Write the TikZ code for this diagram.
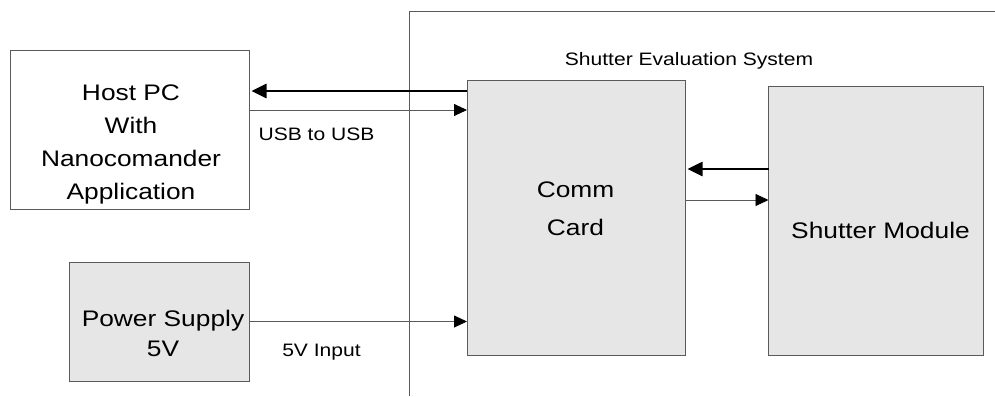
\documentclass[tikz,border=0pt]{standalone}
\usepackage{fontspec}
\setmainfont{Liberation Sans}
\newfontfamily\widefont{Liberation Sans}[FakeStretch=1.17]
\usetikzlibrary{arrows.meta}
\definecolor{boxfill}{HTML}{E6E6E6}
\definecolor{edge}{HTML}{5A5A5A}
\begin{document}
\begin{tikzpicture}[x=1pt,y=-1pt,
  blk/.style={draw=edge,line width=0.9pt,anchor=north west,inner sep=0pt,outer sep=0pt},
  big/.style={font=\widefont\fontsize{22.5}{33}\selectfont,align=center,inner sep=0pt},
  lbl/.style={font=\widefont\fontsize{18}{22}\selectfont,inner sep=0pt},
  thinarr/.style={draw=edge,line width=0.9pt,-{Triangle[length=13pt,width=12pt,color=black]}},
  thickarr/.style={draw=black,line width=2.6pt,shorten >=2.5pt,-{Triangle[length=15pt,width=14pt]}}]
\useasboundingbox (0,0) rectangle (995,396);
% frame
\coordinate (fbl) at (409.5,396);
\coordinate (ftl) at (409.5,11);
\coordinate (ftr) at (995,11);
\draw[draw=edge,line width=0.9pt] (fbl) -- (ftl) -- (ftr);
% blocks
\node[blk,fill=white,minimum width=239pt,minimum height=159pt] (host) at (10,50) {};
\node[blk,fill=boxfill,minimum width=180pt,minimum height=119pt] (psu) at (69,262) {};
\node[blk,fill=boxfill,minimum width=218pt,minimum height=275pt] (comm) at (467,80) {};
\node[blk,fill=boxfill,minimum width=215pt,minimum height=269pt] (shutter) at (768.5,86) {};
% texts
\node[big] (hosttext) at (131,144) {Host PC\\With\\Nanocomander\\Application};
\node[big,font=\widefont\fontsize{22.5}{30}\selectfont] (psutext) at (163,333) {Power Supply\\5V};
\node[big,font=\widefont\fontsize{22.5}{38}\selectfont] (commtext) at (575.5,209) {Comm\\Card};
\node[big] (shuttertext) at (880.5,230) {Shutter Module};
\node[lbl] (systitle) at (689,60.5) {Shutter Evaluation System};
\node[lbl] (usblabel) at (316.5,134) {USB to USB};
\node[lbl] (pwrlabel) at (321.5,352) {5V Input};
% connectors
\draw[thickarr] ([yshift=-11pt]comm.north west) -- ([yshift=-11pt]comm.north west -| host.east);
\draw[thinarr] ([yshift=-60pt]host.north east) -- ([yshift=-60pt]host.north east -| comm.west);
\draw[thinarr] (psu.east) -- (psu.east -| comm.west);
\draw[thickarr] ([yshift=-83pt]shutter.north west) -- ([yshift=-83pt]shutter.north west -| comm.east);
\draw[thinarr] ([yshift=-114pt]shutter.north west -| comm.east) -- ([yshift=-114pt]shutter.north west);
\end{tikzpicture}
\end{document}
